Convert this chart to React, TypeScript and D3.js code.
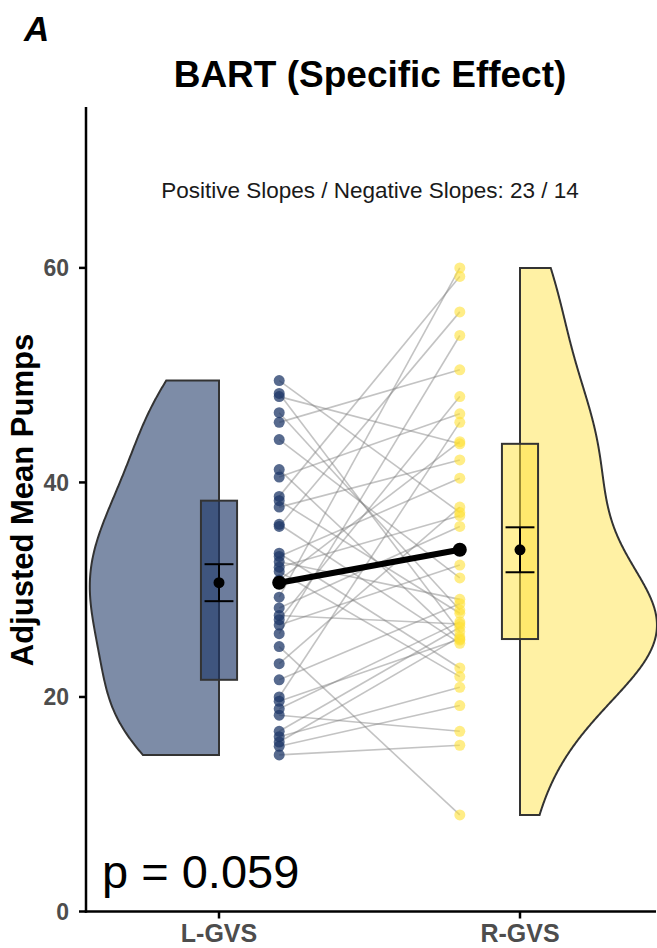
import React from "react";
import * as d3 from "d3";

const conditions = ["L-GVS", "R-GVS"];
// paired per participant
const lgvs = [49.5, 48.3, 48.0, 46.5, 45.6, 44.0, 41.2, 40.5, 38.7, 38.3, 37.7, 36.1, 35.9, 33.4, 33.1, 32.6, 32.1, 31.7, 30.9, 29.3, 28.3, 27.6, 27.2, 26.7, 25.9, 24.7, 23.1, 21.6, 20.0, 19.6, 18.9, 18.3, 16.8, 16.3, 15.8, 15.4, 14.6];
const rgvs = [37.2, 26.1, 43.6, 28.1, 50.5, 31.1, 25.3, 46.4, 59.2, 27.8, 42.1, 25.0, 55.9, 22.7, 40.4, 29.1, 36.9, 21.9, 43.8, 60.0, 35.9, 26.8, 48.0, 32.3, 53.7, 9.0, 37.7, 28.7, 45.6, 25.4, 27.0, 16.8, 26.5, 20.9, 25.6, 19.2, 15.5];
const bwAdjust = [1.15, 1.0];
const yTicks = [0, 20, 40, 60];
const title = "BART (Specific Effect)";
const subtitle = "Positive Slopes / Negative Slopes: 23 / 14";
const pLabel = "p = 0.059";
const panelLabel = "A";
const yTitle = "Adjusted Mean Pumps";

const FONT = "'Liberation Sans', Arial, Helvetica, sans-serif";
const NAVY = "#1f3868";
const YELLOW = "#ffe135";

function kde(values: number[], adjust = 1, n = 512) {
  const s = values.slice().sort(d3.ascending);
  const sd = d3.deviation(s) as number;
  const iqr = (d3.quantile(s, 0.75) as number) - (d3.quantile(s, 0.25) as number);
  const bw = adjust * 0.9 * Math.min(sd, iqr / 1.34) * Math.pow(s.length, -0.2);
  const [lo, hi] = d3.extent(s) as [number, number];
  return d3.range(n).map((i) => {
    const y = lo + ((hi - lo) * i) / (n - 1);
    const d = (d3.mean(s, (v) => Math.exp(-0.5 * ((y - v) / bw) ** 2)) as number) / (bw * Math.sqrt(2 * Math.PI));
    return [y, d] as [number, number];
  });
}

function stats(values: number[]) {
  const s = values.slice().sort(d3.ascending);
  const mean = d3.mean(s) as number;
  const se = (d3.deviation(s) as number) / Math.sqrt(s.length);
  return { q1: d3.quantile(s, 0.25) as number, q3: d3.quantile(s, 0.75) as number, mean, se };
}

export default function App() {
  const W = 657, H = 948;
  const x = d3.scaleLinear().domain([1, 2]).range([219, 520]);
  const y = d3.scaleLinear().domain([0, 75]).range([911.5, 107]);
  const axisLeft = 86, axisRight = 656;

  const groups = [lgvs, rgvs];
  const dens = groups.map((g, i) => kde(g, bwAdjust[i]));
  const maxD = d3.max(dens.flat(), (d) => d[1]) as number;
  const wScale = d3.scaleLinear().domain([0, maxD]).range([0, 0.455]);
  const st = groups.map(stats);

  const leftArea = d3.area<[number, number]>()
    .y((d) => y(d[0]))
    .x0(x(1))
    .x1((d) => x(1 - wScale(d[1])));
  const rightArea = d3.area<[number, number]>()
    .y((d) => y(d[0]))
    .x0(x(2))
    .x1((d) => x(2 + wScale(d[1])));

  const ptX = [x(1.2), x(1.8)];
  const boxHalf = 0.06;
  const ebHalf = 0.048;
  const colors = [NAVY, YELLOW];

  return (
    <svg width={W} height={H} style={{ position: "absolute", left: 0, top: 0, background: "#fff" }} fontFamily={FONT}>
      <rect width={W} height={H} fill="#fff" />
      {/* violins */}
      <path d={leftArea(dens[0]) as string} fill={NAVY} fillOpacity={0.58} stroke="#333" strokeWidth={2} />
      <path d={rightArea(dens[1]) as string} fill={YELLOW} fillOpacity={0.45} stroke="#333" strokeWidth={2} />
      {/* boxes */}
      {st.map((s, i) => (
        <g key={"box" + i}>
          <rect x={x(i + 1 - boxHalf)} y={y(s.q3)} width={x(i + 1 + boxHalf) - x(i + 1 - boxHalf)} height={y(s.q1) - y(s.q3)}
            fill={colors[i]} fillOpacity={i === 0 ? 0.65 : 0.5} stroke="#333" strokeWidth={2} />
          <line x1={x(i + 1 - ebHalf)} x2={x(i + 1 + ebHalf)} y1={y(s.mean + s.se)} y2={y(s.mean + s.se)} stroke="#000" strokeWidth={2} />
          <line x1={x(i + 1 - ebHalf)} x2={x(i + 1 + ebHalf)} y1={y(s.mean - s.se)} y2={y(s.mean - s.se)} stroke="#000" strokeWidth={2} />
          <line x1={x(i + 1)} x2={x(i + 1)} y1={y(s.mean + s.se)} y2={y(s.mean - s.se)} stroke="#000" strokeWidth={2} />
          <circle cx={x(i + 1)} cy={y(s.mean)} r={5.5} fill="#000" />
        </g>
      ))}
      {/* paired lines */}
      {lgvs.map((v, i) => (
        <line key={"l" + i} x1={ptX[0]} y1={y(v)} x2={ptX[1]} y2={y(rgvs[i])} stroke="#7a7a7a" strokeOpacity={0.45} strokeWidth={1.6} />
      ))}
      {/* points */}
      {lgvs.map((v, i) => (
        <circle key={"pl" + i} cx={ptX[0]} cy={y(v)} r={5.5} fill={NAVY} fillOpacity={0.75} />
      ))}
      {rgvs.map((v, i) => (
        <circle key={"pr" + i} cx={ptX[1]} cy={y(v)} r={5.5} fill={YELLOW} fillOpacity={0.6} />
      ))}
      {/* mean line */}
      <line x1={ptX[0]} y1={y(st[0].mean)} x2={ptX[1]} y2={y(st[1].mean)} stroke="#000" strokeWidth={6} />
      <circle cx={ptX[0]} cy={y(st[0].mean)} r={7} fill="#000" />
      <circle cx={ptX[1]} cy={y(st[1].mean)} r={7} fill="#000" />

      {/* axes */}
      <line x1={axisLeft} x2={axisLeft} y1={107} y2={y(0) + 1.2} stroke="#000" strokeWidth={2.5} />
      <line x1={axisLeft - 1.2} x2={axisRight} y1={y(0)} y2={y(0)} stroke="#000" strokeWidth={2.5} />
      {yTicks.map((t) => (
        <g key={"yt" + t}>
          <line x1={axisLeft - 7} x2={axisLeft} y1={y(t)} y2={y(t)} stroke="#000" strokeWidth={2.5} />
          <text x={axisLeft - 17} y={y(t)} dy="0.36em" textAnchor="end" fontSize={23} fontWeight="bold" fill="#4d4d4d">{t}</text>
        </g>
      ))}
      {conditions.map((c, i) => (
        <g key={"xt" + c}>
          <line x1={x(i + 1)} x2={x(i + 1)} y1={y(0)} y2={y(0) + 7} stroke="#000" strokeWidth={2.5} />
          <text x={x(i + 1)} y={942} textAnchor="middle" fontSize={25} fontWeight="bold" fill="#4d4d4d">{c}</text>
        </g>
      ))}
      <text transform={`translate(33, 500) rotate(-90)`} textAnchor="middle" fontSize={31} fontWeight="bold" fill="#000">{yTitle}</text>

      {/* titles */}
      <text x={24} y={41} fontSize={35} fontWeight="bold" fontStyle="italic" fill="#000">{panelLabel}</text>
      <text x={370} y={87} textAnchor="middle" fontSize={37} fontWeight="bold" fill="#000">{title}</text>
      <text x={370} y={198} textAnchor="middle" fontSize={22.5} fill="#1a1a1a">{subtitle}</text>
      <text x={102} y={888} fontSize={47} fill="#000">{pLabel}</text>
    </svg>
  );
}
